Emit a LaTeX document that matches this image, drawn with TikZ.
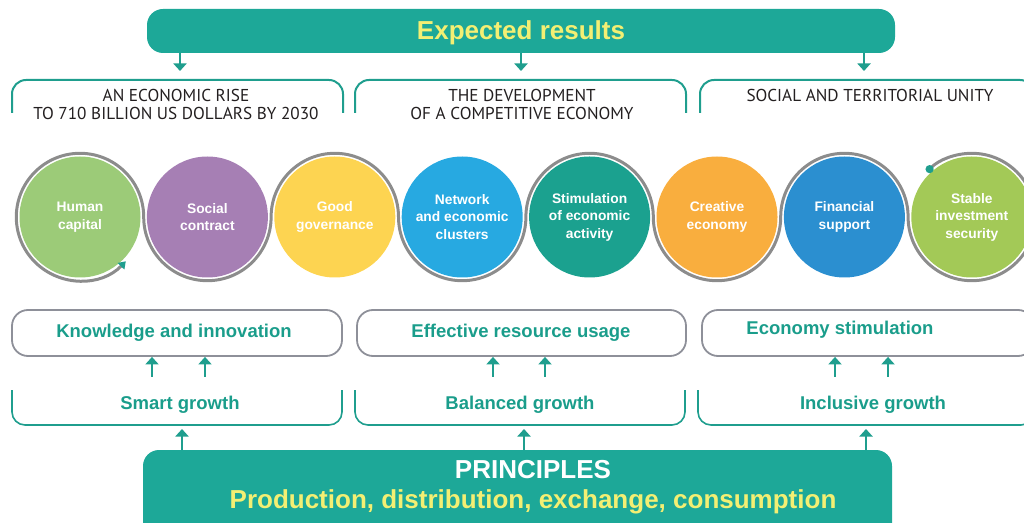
\documentclass[tikz,border=0pt]{standalone}
\usepackage{fontspec}
\setmainfont{Liberation Sans}
\newfontfamily\capsfont{PT Sans}
\usetikzlibrary{arrows.meta}
\definecolor{tealbar}{HTML}{1DA898}
\definecolor{tealtxt}{HTML}{1A9D8B}
\definecolor{tealline}{HTML}{1F9E8E}
\definecolor{yel}{HTML}{F3EF73}
\definecolor{gbox}{HTML}{8E9099}
\definecolor{ringgray}{HTML}{8C8C8C}
\definecolor{capgray}{HTML}{231F20}
\definecolor{cA}{HTML}{9CCB78}
\definecolor{cB}{HTML}{A67FB4}
\definecolor{cC}{HTML}{FDD451}
\definecolor{cD}{HTML}{27A9E1}
\definecolor{cE}{HTML}{1BA18F}
\definecolor{cF}{HTML}{F9AE3E}
\definecolor{cG}{HTML}{2B8FD0}
\definecolor{cH}{HTML}{A3C957}
\begin{document}
\begin{tikzpicture}[x=1pt,y=1pt,
  bar/.style={fill=tealbar, rounded corners=16pt, inner sep=0pt},
  arr/.style={draw=tealline, line width=2.6pt, -{Triangle[width=13pt,length=7.5pt]}},
  topbrk/.style={draw=tealline, line width=2pt, rounded corners=14pt},
  growbrk/.style={draw=tealline, line width=1.6pt, rounded corners=13pt},
  capstxt/.style={font=\capsfont\fontsize{17.2}{18}\selectfont, text=capgray, align=center, inner sep=0pt},
  bigtxt/.style={font=\bfseries\fontsize{26}{30}\selectfont, inner sep=0pt},
  greentxt/.style={font=\bfseries\fontsize{18.5}{22}\selectfont, text=tealtxt, inner sep=0pt},
  gbx/.style={draw=gbox, line width=1.8pt, rounded corners=16pt, minimum height=46pt, inner sep=0pt},
  ball/.style={circle, inner sep=0pt, minimum size=121pt, text=white, align=center, font=\bfseries\fontsize{13.8}{17.5}\selectfont},
  ring/.style={draw=ringgray, line width=3pt}
]
\useasboundingbox (0,0) rectangle (1024,522);
\clip (0,0) rectangle (1024,522);

% top bar
\node[bar, minimum width=748pt, minimum height=44pt] (exp) at (521,491) {};
\node[bigtxt, text=yel] (expt) at (521,489) {Expected results};

\coordinate (a1) at (180,451);
\coordinate (a2) at (521,451);
\coordinate (a3) at (864,451);
\draw[arr] (a1 |- exp.south) -- (a1);
\draw[arr] (a2 |- exp.south) -- (a2);
\draw[arr] (a3 |- exp.south) -- (a3);

% top brackets
\draw[topbrk] (12,409) -- (12,442) -- (343,442) -- (343,409);
\draw[topbrk] (355,409) -- (355,442) -- (686,442) -- (686,409);
\draw[topbrk] (700,409) -- (700,442) -- (1034,442) -- (1034,409);
\node[capstxt] (r1) at (176,418) {AN ECONOMIC RISE\\TO 710 BILLION US DOLLARS BY 2030};
\node[capstxt] (r2) at (522,418) {THE DEVELOPMENT\\OF A COMPETITIVE ECONOMY};
\node[capstxt] (r3) at (870,427) {SOCIAL AND TERRITORIAL UNITY};

% circles
\node[ball, fill=cA] (c1) at (80,305) {Human\\capital};
\node[ball, fill=cB] (c2) at (207.4,305) {Social\\contract};
\node[ball, fill=cC] (c3) at (334.8,305) {Good\\governance};
\node[ball, fill=cD] (c4) at (462.2,305) {Network\\and economic\\clusters};
\node[ball, fill=cE] (c5) at (589.6,305) {Stimulation\\of economic\\activity};
\node[ball, fill=cF] (c6) at (717,305) {Creative\\economy};
\node[ball, fill=cG] (c7) at (844.4,305) {Financial\\support};
\node[ball, fill=cH] (c8) at (971.8,305) {Stable\\investment\\security};

\draw[ring, {Triangle[color=tealline,width=9pt,length=7pt]}-{Circle[color=tealline,length=8pt]}]
  (125.82,260.75) arc[start angle=-44, end angle=-360, radius=63.7]
  arc[start angle=180, end angle=360, radius=63.7]
  arc[start angle=180, end angle=0, radius=63.7]
  arc[start angle=180, end angle=360, radius=63.7]
  arc[start angle=180, end angle=0, radius=63.7]
  arc[start angle=180, end angle=360, radius=63.7]
  arc[start angle=180, end angle=0, radius=63.7]
  arc[start angle=180, end angle=495, radius=63.7];

% gray boxes
\node[gbx, minimum width=330pt] (k1) at (177,189) {};
\node[gbx, minimum width=329pt] (k2) at (521.5,189) {};
\node[gbx, minimum width=332pt] (k3) at (868,189) {};
\node[greentxt] (k1t) at (174,189) {Knowledge and innovation};
\node[greentxt] (k2t) at (521,189) {Effective resource usage};
\node[greentxt] (k3t) at (840,192) {Economy stimulation};

% growth brackets
\draw[growbrk] (12,132) -- (12,97) -- (342,97) -- (342,132);
\draw[growbrk] (355,132) -- (355,97) -- (685,97) -- (685,132);
\draw[growbrk] (698,132) -- (698,97) -- (1034,97) -- (1034,132);
\node[greentxt] (g1t) at (180,117) {Smart growth};
\node[greentxt] (g2t) at (520,117) {Balanced growth};
\node[greentxt] (g3t) at (873,117) {Inclusive growth};

% small arrows between growth and boxes
\foreach \n/\x/\b in {s1/152/k1, s2/205/k1, s3/493/k2, s4/545/k2, s5/835/k3, s6/888/k3}{
  \coordinate (\n) at (\x,145);
  \draw[arr] (\n) -- (\n |- \b.south);
}

% bottom bar
\node[bar, minimum width=749pt, minimum height=112pt] (pr) at (517.5,16) {};
\node[bigtxt, text=white] (prt) at (533,52) {PRINCIPLES};
\node[bigtxt, text=yel] (prt2) at (533,20) {Production, distribution, exchange, consumption};

\coordinate (u1) at (182,93);
\coordinate (u2) at (524,93);
\coordinate (u3) at (866,93);
\draw[arr] (u1 |- pr.north) -- (u1);
\draw[arr] (u2 |- pr.north) -- (u2);
\draw[arr] (u3 |- pr.north) -- (u3);
\end{tikzpicture}
\end{document}
